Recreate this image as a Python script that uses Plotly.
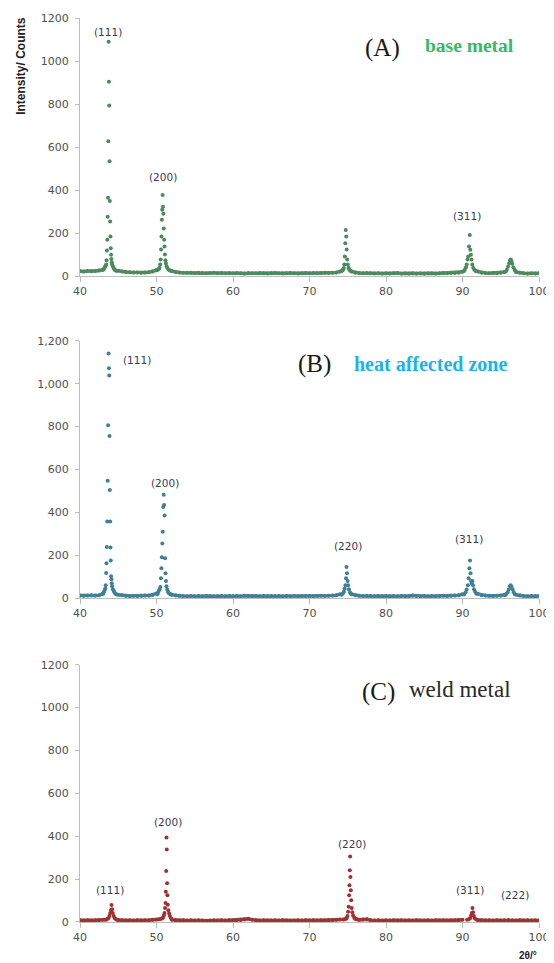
import plotly.graph_objects as go

# ---------------- data ----------------
SCAN_START = 40.0   # 2theta of first background sample
SCAN_STEP = 0.5     # spacing of background samples

x_ticks = [40, 50, 60, 70, 80, 90, 100]
y_ticks = [0, 200, 400, 600, 800, 1000, 1200]
y_ticktext_plain = ["0", "200", "400", "600", "800", "1000", "1200"]
y_ticktext_comma = ["0", "200", "400", "600", "800", "1,000", "1,200"]

# (A) base metal - background counts (every 0.5 deg, None = inside a peak)
a_bg_counts = [
    24, 22, 25, 23, 24, 27, 30, None, None, None,
    26, 22, 20, 19, 18, 18, 17, 18, 19, 22,
    28, None, None, None, 24, 20, 18, 17, 16, 17,
    15, 16, 15, 14, 15, 16, 14, 15, 14, 15,
    14, 15, 14, 13, 15, 14, 14, 15, 14, 13,
    14, 15, 14, 13, 14, 15, 14, 13, 14, 15,
    14, 15, 14, 15, 16, 15, 16, 18, 22, None,
    None, 22, 17, 15, 14, 15, 14, 13, 14, 13,
    14, 13, 14, 15, 13, 14, 13, 14, 13, 14,
    13, 14, 14, 13, 14, 15, 14, 15, 15, 17,
    21, None, None, None, 22, 17, 15, 14, 15, 14,
    16, 20, None, None, 20, 16, 14, 13, 14, 13,
    14,
]
a_peak_2theta = [
    43.0, 43.1, 43.2, 43.3, 43.36, 43.42, 43.47, 43.52, 43.57, 43.62,
    43.66, 43.70, 43.74, 43.78, 43.82, 43.86, 43.90, 43.94, 43.98, 44.02,
    44.06, 44.10, 44.15, 44.20, 44.30, 44.40, 44.50, 44.60, 44.70, 44.80,
    50.1, 50.2, 50.3, 50.4, 50.48, 50.54, 50.60, 50.65, 50.70, 50.75,
    50.80, 50.85, 50.90, 50.95, 51.00, 51.05, 51.10, 51.16, 51.22, 51.30,
    51.40, 51.55, 51.70, 51.85,
    74.2, 74.3, 74.4, 74.48, 74.55, 74.62, 74.68, 74.74, 74.80, 74.86,
    74.92, 75.00, 75.10, 75.20, 75.30, 75.40,
    90.2, 90.3, 90.45, 90.55, 90.65, 90.75, 90.85, 90.95, 91.02, 91.10,
    91.18, 91.28, 91.40, 91.55, 91.70, 91.85,
    95.65, 95.8, 95.95, 96.1, 96.2, 96.3, 96.4, 96.5, 96.65, 96.8, 96.9,
]
a_peak_counts = [
    30, 33, 38, 45, 50, 55, 75, 120, 170, 277,
    365, 627, 1090, 904, 794, 535, 350, 254, 185, 130,
    100, 80, 65, 55, 45, 38, 32, 28, 27, 26,
    29, 31, 34, 40, 55, 78, 124, 185, 263, 309,
    378, 323, 291, 222, 170, 138, 101, 75, 60, 48,
    40, 32, 28, 26,
    24, 27, 32, 38, 55, 92, 154, 215, 185, 125,
    78, 55, 40, 32, 27, 24,
    24, 30, 42, 55, 78, 92, 138, 192, 123, 100,
    78, 55, 40, 30, 25, 23,
    22, 30, 45, 60, 72, 78, 70, 58, 42, 30, 24,
]

# (B) heat affected zone
b_bg_counts = [
    12, 11, 12, 13, 12, 14, 20, None, None, None,
    16, 13, 11, 10, 11, 10, 11, 12, 12, 15,
    22, None, None, None, 16, 12, 11, 10, 9, 10,
    9, 10, 9, 10, 9, 8, 9, 10, 9, 10,
    9, 10, 9, 11, 10, 9, 10, 9, 10, 9,
    10, 9, 10, 9, 10, 9, 10, 9, 10, 10,
    10, 9, 10, 11, 10, 11, 12, 14, 18, None,
    None, 18, 13, 11, 10, 11, 10, 9, 10, 9,
    10, 9, 10, 9, 10, 9, 10, 12, 10, 9,
    10, 9, 10, 9, 10, 11, 10, 11, 12, 14,
    18, None, None, None, 20, 14, 12, 11, 10, 11,
    12, 16, None, None, 16, 12, 10, 9, 10, 9,
    10,
]
b_peak_2theta = [
    43.0, 43.1, 43.2, 43.30, 43.36, 43.42, 43.46, 43.50, 43.56, 43.62,
    43.68, 43.74, 43.78, 43.82, 43.86, 43.90, 43.94, 43.98, 44.02, 44.06,
    44.10, 44.15, 44.20, 44.30, 44.40, 44.50, 44.60, 44.70, 44.80,
    50.1, 50.2, 50.3, 50.4, 50.5, 50.58, 50.64, 50.70, 50.76, 50.82,
    50.88, 50.94, 51.00, 51.06, 51.12, 51.18, 51.24, 51.30, 51.40, 51.50,
    51.60, 51.75, 51.9,
    74.2, 74.35, 74.5, 74.6, 74.7, 74.78, 74.84, 74.90, 74.98, 75.05,
    75.15, 75.3, 75.4,
    90.2, 90.4, 90.55, 90.7, 90.8, 90.9, 90.98, 91.05, 91.12, 91.2,
    91.3, 91.38, 91.5, 91.65, 91.8,
    95.6, 95.75, 95.9, 96.05, 96.2, 96.3, 96.42, 96.55, 96.7, 96.85,
]
b_peak_counts = [
    22, 28, 35, 45, 60, 117, 163, 238, 357, 547,
    806, 1141, 1072, 1038, 756, 505, 357, 236, 176, 102,
    88, 70, 55, 42, 35, 28, 22, 19, 17,
    18, 25, 35, 42, 52, 93, 139, 191, 255, 310,
    425, 482, 435, 385, 186, 116, 80, 55, 40, 30,
    24, 19, 17,
    16, 22, 30, 45, 60, 93, 145, 116, 80, 60,
    42, 28, 20,
    17, 28, 40, 60, 93, 139, 176, 116, 80, 70,
    80, 60, 42, 30, 20,
    15, 20, 28, 40, 55, 60, 52, 40, 28, 18,
]

# (C) weld metal
c_bg_counts = [
    8, 7, 8, 7, 8, 9, 10, None, None, None,
    9, 8, 7, 8, 7, 8, 7, 8, 8, 10,
    12, None, None, None, 10, 8, 7, 8, 7, 8,
    7, 8, 7, 6, 7, 8, 7, 8, 7, 8,
    7, 8, 9, 12, 15, 11, 8, 7, 8, 7,
    7, 8, 7, 8, 7, 6, 7, 8, 7, 8,
    7, 8, 7, 8, 8, 9, 9, 10, 12, None,
    None, None, 14, 10, 12, 13, 8, 7, 8, 7,
    8, 7, 8, 7, 8, 7, 8, 7, 8, 7,
    7, 8, 7, 8, 7, 8, 7, 8, 8, 9,
    10, None, None, None, 9, 8, 7, 8, 7, 8,
    7, 8, 9, 8, 7, 8, 7, 8, 7, 8,
    7,
]
c_peak_2theta = [
    43.3, 43.45, 43.6, 43.7, 43.85, 43.95, 44.05, 44.12, 44.2, 44.28,
    44.4, 44.55, 44.7, 44.85,
    50.3, 50.5, 50.7, 50.85, 50.95, 51.05, 51.12, 51.18, 51.22, 51.26,
    51.30, 51.34, 51.38, 51.42, 51.48, 51.55, 51.65, 51.75, 51.9,
    74.4, 74.6, 74.75, 74.85, 74.95, 75.05, 75.12, 75.18, 75.22, 75.27,
    75.31, 75.35, 75.40, 75.45, 75.52, 75.6, 75.7, 75.85, 76.0, 76.2,
    90.6, 90.8, 91.0, 91.12, 91.22, 91.3, 91.38, 91.48, 91.6, 91.8,
]
c_peak_counts = [
    10, 12, 15, 18, 28, 42, 56, 79, 60, 42,
    28, 18, 13, 10,
    13, 14, 16, 20, 30, 42, 65, 89, 141, 238,
    394, 338, 181, 125, 80, 55, 40, 28, 18,
    12, 13, 15, 18, 28, 48, 71, 125, 171, 241,
    306, 210, 148, 102, 65, 45, 30, 20, 16, 13,
    11, 13, 18, 30, 42, 65, 45, 28, 18, 12,
]

# peak labels: (text, 2theta, counts)
a_labels = [("(111)", 43.6, 1135), ("(200)", 50.8, 461), ("(311)", 90.6, 282)]
b_labels = [("(111)", 47.4, 1112), ("(200)", 51.1, 537), ("(220)", 75.0, 245), ("(311)", 90.9, 278)]
c_labels = [("(111)", 43.9, 148), ("(200)", 51.5, 468), ("(220)", 75.5, 366),
            ("(311)", 91.0, 148), ("(222)", 96.9, 125)]

# ---------------- figure ----------------
# The page places the figure 8 px from the top-left corner (body margin),
# so the figure is made 8 px smaller and margins are given in figure pixels.
OFF = 8
W, H = 554 - OFF, 963 - OFF
PL, PR, PT, PB = 80, 540, 12, 922          # plot area in screen pixels
ML, MT = PL - OFF, PT - OFF
MR, MB = W - (PR - OFF), H - (PB - OFF)


def py2paper(py):
    return (PB - py) / (PB - PT)


def px2paper(px):
    return (px - PL) / (PR - PL)


def bg_x(vals):
    return [SCAN_START + SCAN_STEP * i for i in range(len(vals))]


panels = [
    dict(bg=a_bg_counts, px=a_peak_2theta, py=a_peak_counts, labels=a_labels,
         color="#4a8a5c", band="#648f73", dom=(272, 12), ticktext=y_ticktext_plain),
    dict(bg=b_bg_counts, px=b_peak_2theta, py=b_peak_counts, labels=b_labels,
         color="#3f7f98", band="#5f8999", dom=(596, 337), ticktext=y_ticktext_comma),
    dict(bg=c_bg_counts, px=c_peak_2theta, py=c_peak_counts, labels=c_labels,
         color="#a33030", band="#8a5757", dom=(922, 663), ticktext=y_ticktext_plain),
]

fig = go.Figure()
layout = dict(
    width=W, height=H,
    margin=dict(l=ML, r=MR, t=MT, b=MB),
    plot_bgcolor="white", paper_bgcolor="white",
    showlegend=False,
    annotations=[],
)
tickfont = dict(family="DejaVu Sans", size=11, color="#505050")
label_font = dict(family="DejaVu Sans", size=10.5, color="#3a3a55")

for i, p in enumerate(panels, start=1):
    xa = "x" if i == 1 else f"x{i}"
    ya = "y" if i == 1 else f"y{i}"
    fig.add_trace(go.Scatter(
        x=bg_x(p["bg"]), y=p["bg"], mode="lines+markers",
        line=dict(color=p["band"], width=3.5),
        marker=dict(color=p["color"], size=4),
        connectgaps=False, xaxis=xa, yaxis=ya, hoverinfo="skip"))
    fig.add_trace(go.Scatter(
        x=p["px"], y=p["py"], mode="markers",
        marker=dict(color=p["color"], size=4),
        xaxis=xa, yaxis=ya, hoverinfo="skip"))
    key_x = "xaxis" if i == 1 else f"xaxis{i}"
    key_y = "yaxis" if i == 1 else f"yaxis{i}"
    layout[key_x] = dict(
        domain=[0, 1], anchor=ya, range=[40, 100], tickvals=x_ticks,
        showline=True, linecolor="#bdbdbd", linewidth=1,
        ticks="outside", ticklen=5, tickcolor="#bdbdbd",
        showgrid=False, zeroline=False, tickfont=tickfont)
    layout[key_y] = dict(
        domain=[py2paper(p["dom"][0]), py2paper(p["dom"][1])], anchor=xa,
        range=[0, 1200], tickvals=y_ticks, ticktext=p["ticktext"],
        showline=True, linecolor="#bdbdbd", linewidth=1,
        ticks="outside", ticklen=4, tickcolor="#bdbdbd",
        ticklabelstandoff=4,
        showgrid=False, zeroline=False, tickfont=tickfont)
    for txt, lx, ly in p["labels"]:
        layout["annotations"].append(dict(
            text=txt, x=lx, y=ly, xref=xa, yref=ya, showarrow=False,
            font=label_font))

serif = "Liberation Serif"
titles = [
    ("(A)", 383, 42, dict(family=serif, size=25, color="#1a1a1a")),
    ("<b>base metal</b>", 470, 40, dict(family=serif, size=19.5, color="#33bb66")),
    ("(B)", 315, 360, dict(family=serif, size=25, color="#1a1a1a")),
    ("<b>heat affected zone</b>", 431, 360, dict(family=serif, size=20, color="#18b4f0")),
    ("(C)", 379, 690, dict(family=serif, size=25, color="#1a1a1a")),
    ("weld metal", 461, 688, dict(family=serif, size=23, color="#2a2a2a")),
]
for txt, cx, cy, f in titles:
    layout["annotations"].append(dict(
        text=txt, x=px2paper(cx), y=py2paper(cy), xref="paper", yref="paper",
        xanchor="center", yanchor="middle", showarrow=False, font=f))

layout["annotations"].append(dict(
    text="<b>Intensity/ Counts</b>", x=px2paper(21), y=py2paper(60),
    xref="paper", yref="paper", xanchor="center", yanchor="middle",
    textangle=-90, showarrow=False,
    font=dict(family="Liberation Sans", size=12, color="#222222")))
layout["annotations"].append(dict(
    text="<b>2θ/°</b>", x=px2paper(529), y=py2paper(956),
    xref="paper", yref="paper", xanchor="center", yanchor="middle",
    showarrow=False, font=dict(family="Liberation Sans", size=10, color="#222222")))

fig.update_layout(**layout)
fig.write_html("out.html")
